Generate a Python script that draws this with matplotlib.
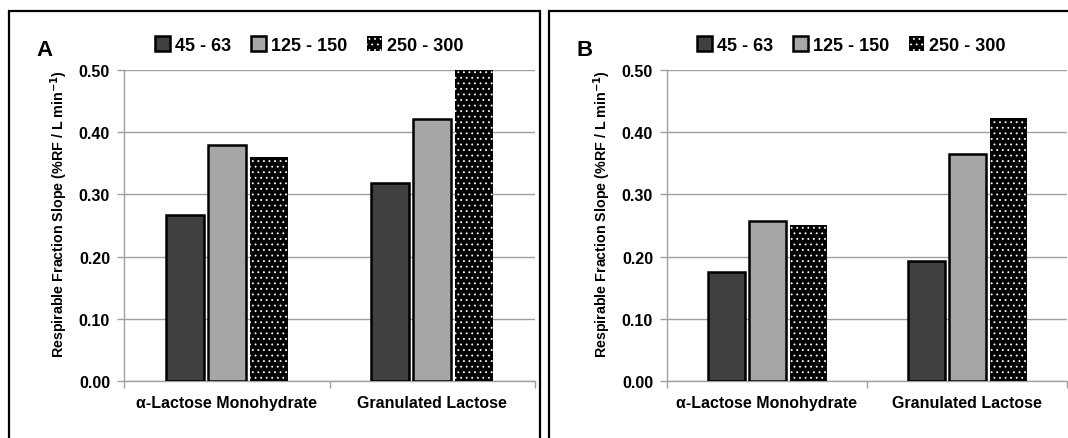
import matplotlib.pyplot as plt
from matplotlib.patches import Rectangle, Patch
import numpy as np

plt.rcParams['font.family'] = ['Liberation Sans', 'DejaVu Sans']
plt.rcParams['font.weight'] = 'bold'
plt.rcParams['hatch.color'] = 'white'
plt.rcParams['hatch.linewidth'] = 0.6

categories = ['\u03b1-Lactose Monohydrate', 'Granulated Lactose']
sizes = ['45 - 63', '125 - 150', '250 - 300']

# panel A values (last bar runs off the top of the axis)
vals_a = [[0.267, 0.319], [0.379, 0.422], [0.360, 0.53]]
# panel B values
vals_b = [[0.176, 0.193], [0.258, 0.365], [0.251, 0.423]]

yticks = [0.0, 0.1, 0.2, 0.3, 0.4, 0.5]
ylabel = 'Respirable Fraction Slope (%RF / L min$^{\\mathbf{-1}}$)'

styles = [
    dict(facecolor='#404040', edgecolor='black', linewidth=1.8),
    dict(facecolor='#a6a6a6', edgecolor='black', linewidth=1.8),
    dict(facecolor='black', edgecolor='white', linewidth=0, hatch='...'),
]

fig = plt.figure(figsize=(10.68, 4.39), dpi=100)

# panel frames
fig.patches.append(Rectangle((9 / 1068, -0.05), 531 / 1068, 1.05 - 12 / 439,
                             transform=fig.transFigure, fill=False,
                             edgecolor='black', linewidth=1.6))
fig.patches.append(Rectangle((549 / 1068, -0.05), 0.6, 1.05 - 12 / 439,
                             transform=fig.transFigure, fill=False,
                             edgecolor='black', linewidth=1.6))

def draw(ax, vals, letter, lx, legx, labx):
    x = np.arange(len(categories))
    offs = [-0.205, 0, 0.205]
    handles = []
    for i, s in enumerate(sizes):
        ax.bar(x + offs[i], vals[i], width=0.185, zorder=3, **styles[i])
        handles.append(Patch(label=s, **styles[i]))
    ax.set_xlim(-0.5, 1.5)
    ax.set_ylim(0, 0.5)
    ax.set_yticks(yticks)
    ax.set_yticklabels(['%.2f' % v for v in yticks], fontsize=11.5, fontweight='bold')
    ax.set_xticks(x)
    ax.set_xticklabels(categories, fontsize=11.5, fontweight='bold')
    ax.set_xticks([-0.5, 0.5, 1.5], minor=True)
    ax.tick_params(axis='x', which='major', length=0, pad=10)
    ax.tick_params(axis='x', which='minor', length=5, color='#a0a0a0', width=1)
    ax.tick_params(axis='y', length=5, color='#a0a0a0', width=1, pad=5)
    ax.grid(axis='y', color='#a0a0a0', linewidth=1, zorder=0)
    ax.set_axisbelow(True)
    for sp in ['top', 'right']:
        ax.spines[sp].set_visible(False)
    for sp in ['left', 'bottom']:
        ax.spines[sp].set_color('#a0a0a0')
        ax.spines[sp].set_linewidth(1)
    ax.set_ylabel(ylabel, fontsize=10.3, fontweight='bold')
    ax.yaxis.set_label_coords(labx, 0.54)
    leg = ax.legend(handles=handles, loc='center', bbox_to_anchor=(legx, 1 + 25 / 311),
                    ncol=3, frameon=False, fontsize=13, handlelength=0.85,
                    handleheight=0.85, handletextpad=0.25, columnspacing=1.1,
                    borderaxespad=0)
    for t in leg.get_texts():
        t.set_fontweight('bold')
    fig.text(lx / 1068, 1 - 50 / 439, letter, fontsize=16, fontweight='bold',
             va='center', ha='left')

ax1 = fig.add_axes([124 / 1068, 57 / 439, 411 / 1068, 311 / 439])
draw(ax1, vals_a, 'A', 36, 0.45, -0.132)
ax2 = fig.add_axes([667 / 1068, 57 / 439, 400 / 1068, 311 / 439])
draw(ax2, vals_b, 'B', 577, 0.46, -0.136)

fig.savefig('out.png', dpi=100)
